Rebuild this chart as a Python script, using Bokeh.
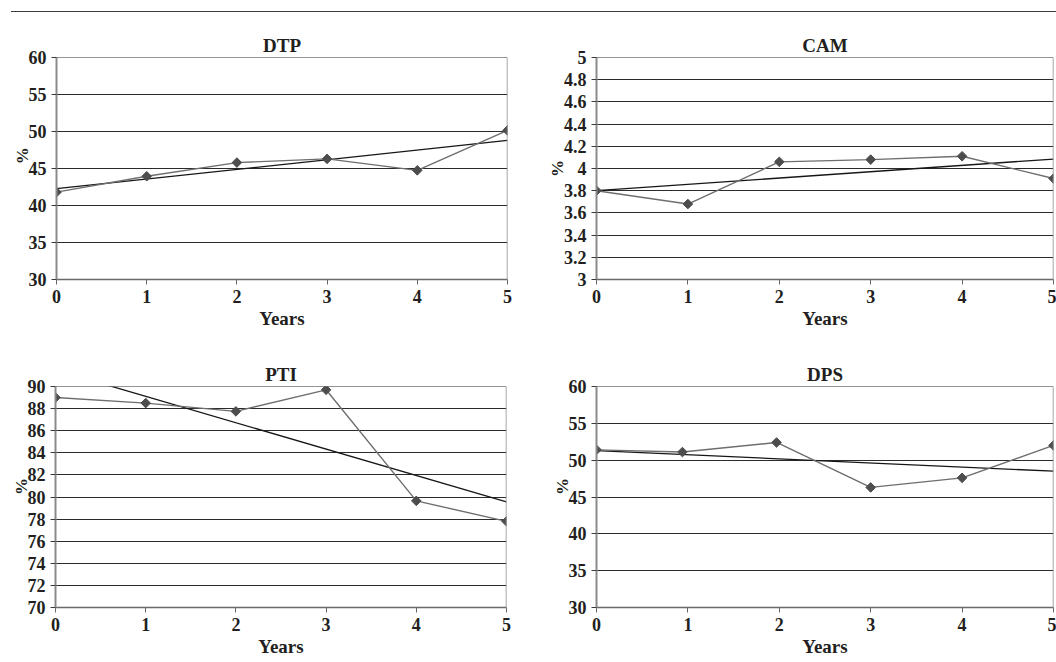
from bokeh.plotting import figure
from bokeh.layouts import column, row
from bokeh.models import Spacer, Range1d, Span
from bokeh.embed import file_html
from bokeh.resources import INLINE

# ---------------- data ----------------
years = [0, 1, 2, 3, 4, 5]
year_labels = ["0", "1", "2", "3", "4", "5"]
trend_years = [0, 5]

dtp_values = [41.8, 43.95, 45.8, 46.3, 44.75, 50.15]
dtp_trend = [42.27, 48.8]
dtp_ticks = [30, 35, 40, 45, 50, 55, 60]
dtp_tick_labels = ["30", "35", "40", "45", "50", "55", "60"]

cam_values = [3.80, 3.68, 4.06, 4.08, 4.11, 3.91]
cam_trend = [3.80, 4.085]
cam_ticks = [3.0, 3.2, 3.4, 3.6, 3.8, 4.0, 4.2, 4.4, 4.6, 4.8, 5.0]
cam_tick_labels = ["3", "3.2", "3.4", "3.6", "3.8", "4", "4.2", "4.4", "4.6", "4.8", "5"]

pti_values = [89.0, 88.5, 87.75, 89.7, 79.65, 77.8]
pti_trend = [91.5, 79.55]
pti_ticks = [70, 72, 74, 76, 78, 80, 82, 84, 86, 88, 90]
pti_tick_labels = ["70", "72", "74", "76", "78", "80", "82", "84", "86", "88", "90"]

dps_years = [0, 0.94, 1.97, 3, 4, 5]
dps_values = [51.4, 51.1, 52.4, 46.3, 47.6, 52.0]
dps_trend = [51.3, 48.5]
dps_ticks = [30, 35, 40, 45, 50, 55, 60]
dps_tick_labels = ["30", "35", "40", "45", "50", "55", "60"]

FONT = "Liberation Serif"
TXT = "#231f20"
NB = "\u00a0"


def make_panel(title, xs, ys, trend, ticks, tick_labels, width, height,
               left, right, top, bottom, pct_pad):
    p = figure(width=width, height=height,
               x_range=Range1d(0, 5), y_range=Range1d(ticks[0], ticks[-1]),
               output_backend="svg", toolbar_location=None,
               min_border_left=left, min_border_right=right,
               min_border_top=top, min_border_bottom=bottom)
    p.background_fill_color = "white"
    p.border_fill_color = "white"
    p.outline_line_color = None

    p.title.text = title
    p.title.align = "center"
    p.title.text_font = FONT
    p.title.text_font_size = "19px"
    p.title.text_font_style = "bold"
    p.title.text_color = TXT
    p.title.standoff = 4

    # grid
    p.xgrid.visible = False
    p.ygrid.ticker = ticks
    p.ygrid.grid_line_color = "#2b2b2b"
    p.ygrid.grid_line_width = 1

    # frame edges
    p.add_layout(Span(location=ticks[-1], dimension="width",
                      line_color="#2b2b2b", line_width=1))
    p.add_layout(Span(location=5, dimension="height",
                      line_color="#8a8a8a", line_width=1.5))

    # x axis
    xa = p.xaxis[0]
    xa.ticker = years
    xa.major_label_overrides = {y: l for y, l in zip(years, year_labels)}
    xa.axis_label = "Years"
    xa.axis_label_text_font = FONT
    xa.axis_label_text_font_size = "19px"
    xa.axis_label_text_font_style = "bold"
    xa.axis_label_text_color = TXT
    xa.axis_label_standoff = 2
    xa.major_label_text_font = FONT
    xa.major_label_text_font_size = "18px"
    xa.major_label_text_font_style = "bold"
    xa.major_label_text_color = TXT
    xa.major_label_standoff = 5
    xa.axis_line_color = "#6a6a6a"
    xa.axis_line_width = 1.5
    xa.major_tick_out = 5
    xa.major_tick_in = 0
    xa.major_tick_line_color = "#6a6a6a"
    xa.minor_tick_line_color = None

    # y axis
    ya = p.yaxis[0]
    ya.ticker = ticks
    ya.major_label_overrides = {t: l for t, l in zip(ticks, tick_labels)}
    ya.axis_label = NB * pct_pad + "%"
    ya.axis_label_text_font = FONT
    ya.axis_label_text_font_size = "17px"
    ya.axis_label_text_font_style = "bold"
    ya.axis_label_text_color = TXT
    ya.axis_label_standoff = -6
    ya.major_label_text_font = FONT
    ya.major_label_text_font_size = "18px"
    ya.major_label_text_font_style = "bold"
    ya.major_label_text_color = TXT
    ya.major_label_standoff = 5
    ya.axis_line_color = "#8a8a8a"
    ya.axis_line_width = 2
    ya.major_tick_out = 5
    ya.major_tick_in = 0
    ya.major_tick_line_color = "#3a3a3a"
    ya.minor_tick_line_color = None

    # trend line and series
    p.line(trend_years, trend, line_color="#161616", line_width=1.3)
    p.line(xs, ys, line_color="#6e6e6e", line_width=1.4)
    p.scatter(xs, ys, marker="square", angle=0.785398, size=6.8,
              fill_color="#4d4d4d", line_color="#4d4d4d")
    return p


p1 = make_panel("DTP", years, dtp_values, dtp_trend, dtp_ticks, dtp_tick_labels,
                520, 324, 48, 21, 45, 57, 6)
p2 = make_panel("CAM", years, cam_values, cam_trend, cam_ticks, cam_tick_labels,
                528, 324, 68, 3, 45, 56, 0)
p3 = make_panel("PTI", years, pti_values, pti_trend, pti_ticks, pti_tick_labels,
                520, 326, 47, 22, 48, 55, 5)
p4 = make_panel("DPS", dps_years, dps_values, dps_trend, dps_ticks, dps_tick_labels,
                528, 326, 68, 3, 50, 54, 5)

rule = row(Spacer(width=11, height=1),
           Spacer(width=1045, height=1, styles={"background-color": "#3c3c3c"}))

layout = column(Spacer(width=10, height=11), rule,
                row(Spacer(width=8, height=10), p1, p2),
                row(Spacer(width=8, height=10), p3, p4))

open("out.html", "w").write(file_html(layout, INLINE))
